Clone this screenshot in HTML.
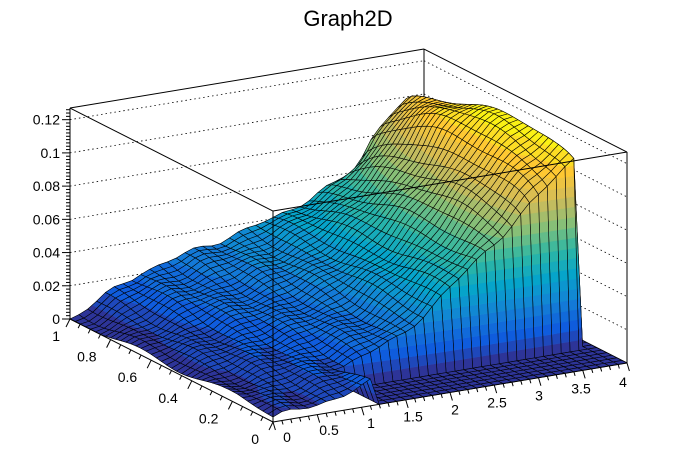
<!DOCTYPE html>
<html><head><meta charset="utf-8"><style>
html,body{margin:0;padding:0;background:#fff;}
svg{display:block;font-family:"Liberation Sans",Arial,sans-serif;}
</style></head><body>
<svg id="s" width="696" height="472" viewBox="0 0 696 472" xmlns="http://www.w3.org/2000/svg">
<text x="348" y="26" font-size="22" text-anchor="middle" fill="#000">Graph2D</text>
<g id="walls"></g><g id="surf"></g><g id="front"></g><g id="axes" font-size="14" fill="#000"></g>
</svg>
<script>
(function(){
var NS="http://www.w3.org/2000/svg";
function P(x,y,z){return [273+88.5*x-203*y, 422-14.75*x-103*y-1661*z];}
function el(p,tag,a){var e=document.createElementNS(NS,tag);for(var k in a)e.setAttribute(k,a[k]);p.appendChild(e);return e;}
var walls=document.getElementById('walls'),surf=document.getElementById('surf'),front=document.getElementById('front'),axes=document.getElementById('axes');
function line(g,a,b,extra){var o={x1:a[0],y1:a[1],x2:b[0],y2:b[1],stroke:'#000','stroke-width':1};for(var k in extra)o[k]=extra[k];el(g,'line',o);}
var ZT=0.127;
for(var z=0.02;z<=0.121;z+=0.02){
 line(walls,P(0,1,z),P(4,1,z),{'stroke-dasharray':'1.5,3','stroke-width':0.8});
 line(walls,P(4,1,z),P(4,0,z),{'stroke-dasharray':'1.5,3','stroke-width':0.8});
}
line(walls,P(0,1,0),P(0,1,ZT));line(walls,P(4,1,0),P(4,1,ZT));line(walls,P(4,0,0),P(4,0,ZT));
line(walls,P(0,1,ZT),P(4,1,ZT));line(walls,P(4,1,ZT),P(4,0,ZT));
line(walls,P(0,1,0),P(4,1,0));line(walls,P(4,1,0),P(4,0,0));
function interp(pts,x){if(x<=pts[0][0])return pts[0][1];for(var i=1;i<pts.length;i++){if(x<=pts[i][0]){var t=(x-pts[i-1][0])/(pts[i][0]-pts[i-1][0]);return pts[i-1][1]+t*(pts[i][1]-pts[i-1][1]);}}return pts[pts.length-1][1];}
var ZB=[[0,0],[0.8,0.021],[2.3,0.04],[3.0,0.055],[3.25,0.063],[3.45,0.083],[3.62,0.092],[3.9,0.1]];
var ZF=[[0,0.005],[1.2,0.013],[1.85,0.024],[3.2,0.084],[3.9,0.119]];
var Z0=[[0,0.003],[0.5,0.006],[1.0,0.012],[1.2,0.016]];
function f(x,y){
 if(x>3.85)return 0;
 if(x>1.15&&y<0.16)return 0;
 var zf=interp(ZF,x),zb=interp(ZB,x),z;
 if(y<0.17){var z0=interp(Z0,x);z=z0+(zf-z0)*(y/0.17);}
 else{var t=(y-0.17)/0.83;z=zf+(zb-zf)*t;}
 var yy=Math.min(1,Math.max(0,(y-0.17)/0.83));
 var bump=0.02*Math.pow(Math.sin(Math.PI*yy),0.7)*Math.exp(-Math.pow((x-3.4)/0.6,2));
 z+=bump;
 z+=0.0012*Math.sin(x*7.3+y*11)+0.001*Math.sin(x*13-y*17);
 return Math.min(0.122,Math.max(0,z));
}
var st=[[0,.2082,.1664,.5293],[.125,.0592,.3599,.8684],[.25,.078,.5041,.8385],[.375,.0232,.6419,.7914],[.5,.1802,.7178,.6425],[.625,.5301,.7492,.4662],[.75,.8186,.7328,.3499],[.875,.9956,.7862,.1968],[1,.9764,.9832,.0539]];
function col(t){t=Math.max(0,Math.min(1,t));for(var i=1;i<st.length;i++){if(t<=st[i][0]){var u=(t-st[i-1][0])/(st[i][0]-st[i-1][0]);var c=[1,2,3].map(function(k){return Math.round(255*(st[i-1][k]+u*(st[i][k]-st[i-1][k])));});return 'rgb('+c.join(',')+')';}}return '#ff0';}
var ZMAX=0.122,NB=20,bw=ZMAX/NB;
function clip(poly,lev,above){var out=[];for(var i=0;i<poly.length;i++){var a=poly[i],b=poly[(i+1)%poly.length];var ia=above?a[2]>=lev:a[2]<=lev,ib=above?b[2]>=lev:b[2]<=lev;if(ia)out.push(a);if(ia!==ib){var t=(lev-a[2])/(b[2]-a[2]);out.push([a[0]+t*(b[0]-a[0]),a[1]+t*(b[1]-a[1]),lev]);}}return out;}
var nx=40,ny=40,dx=0.1,dy=1/ny,cells=[];
var Z=[];for(var i=0;i<=nx;i++){Z[i]=[];for(var j=0;j<=ny;j++)Z[i][j]=f(i*dx,j*dy);}
for(var i=0;i<nx;i++)for(var j=0;j<ny;j++)cells.push([i,j,14.75*(i+.5)*dx+103*(j+.5)*dy]);
cells.sort(function(a,b){return b[2]-a[2];});
cells.forEach(function(c){
 var i=c[0],j=c[1];
 var q=[[i*dx,j*dy,Z[i][j]],[(i+1)*dx,j*dy,Z[i+1][j]],[(i+1)*dx,(j+1)*dy,Z[i+1][j+1]],[i*dx,(j+1)*dy,Z[i][j+1]]];
 var zmin=Math.min(q[0][2],q[1][2],q[2][2],q[3][2]),zmax=Math.max(q[0][2],q[1][2],q[2][2],q[3][2]);
 var b0=Math.floor(zmin/bw),b1=Math.min(NB-1,Math.floor(zmax/bw));
 var g=el(surf,'g',{});
 for(var b=b0;b<=b1;b++){
  var p=q;
  if(b>b0)p=clip(p,b*bw,true);
  if(b<b1)p=clip(p,(b+1)*bw,false);
  if(p.length<3)continue;
  var s=p.map(function(v){var r=P(v[0],v[1],v[2]);return r[0].toFixed(2)+','+r[1].toFixed(2);}).join(' ');
  var cc=col((b+0.5)/NB);
  el(g,'polygon',{points:s,fill:cc,stroke:cc,'stroke-width':0.4});
 }
 var s2=q.map(function(v){var r=P(v[0],v[1],v[2]);return r[0].toFixed(2)+','+r[1].toFixed(2);}).join(' ');
 el(g,'polygon',{points:s2,fill:'none',stroke:'#000','stroke-width':0.6,'stroke-linejoin':'round'});
});
line(front,P(0,1,ZT),P(0,0,ZT));line(front,P(0,0,ZT),P(4,0,ZT));line(front,P(0,0,ZT),P(0,0,0));
line(axes,P(0,1,0),P(0,1,ZT));
for(var k=0;k<=63;k++){var z=k*0.002;if(z>ZT)break;var p=P(0,1,z);var L=(k%10==0)?8:4;line(axes,[p[0]-L,p[1]],p);}
['0','0.02','0.04','0.06','0.08','0.1','0.12'].forEach(function(t,k){var p=P(0,1,k*0.02);el(axes,'text',{x:p[0]-10,y:p[1]+5,'text-anchor':'end'}).textContent=t;});
line(axes,P(0,0,0),P(4,0,0));
for(var k=0;k<=40;k++){var p=P(k*0.1,0,0);var L=(k%5==0)?8:4;line(axes,p,[p[0]+0.3*L,p[1]+L]);}
['0','0.5','1','1.5','2','2.5','3','3.5','4'].forEach(function(t,k){el(axes,'text',{x:287+k*42,y:442-k*6.9,'text-anchor':'middle'}).textContent=t;});
line(axes,P(0,0,0),P(0,1,0));
for(var k=0;k<=20;k++){var p=P(0,k*0.05,0);var L=(k%4==0)?8:4;line(axes,p,[p[0]-0.5*L,p[1]+L]);}
['0','0.2','0.4','0.6','0.8','1'].forEach(function(t,k){var p=P(0,k*0.2,0);el(axes,'text',{x:p[0]-14+(k==5?4:0),y:p[1]+22,'text-anchor':'end'}).textContent=t;});
})();
</script>
</body></html>
